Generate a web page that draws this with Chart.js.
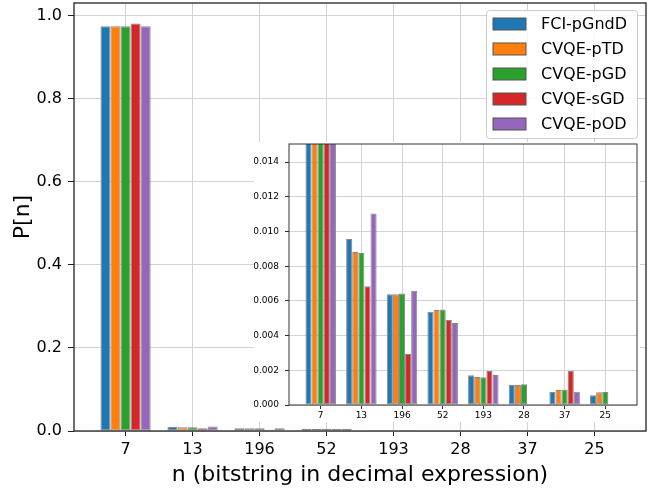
<!DOCTYPE html>
<html>
<head>
<meta charset="utf-8">
<script src="https://cdn.jsdelivr.net/npm/chart.js@4.4.1/dist/chart.umd.min.js"></script>
<style>
  body { margin: 0; background: #fff; }
  #wrap { position: relative; width: 662px; height: 489px; }
  #mainChart { position: absolute; left: 0; top: 0; }
  #insetChart { position: absolute; left: 254px; top: 142px; background: #fff; }
</style>
</head>
<body>
<div id="wrap">
  <canvas id="mainChart" width="662" height="489"></canvas>
  <canvas id="insetChart" width="386" height="280"></canvas>
</div>
<script>
// bitstrings n, in the order of the x axis
var categories = ['7', '13', '196', '52', '193', '28', '37', '25'];
var seriesNames = ['FCI-pGndD', 'CVQE-pTD', 'CVQE-pGD', 'CVQE-sGD', 'CVQE-pOD'];
var fciPGndD = [0.9748, 0.00956, 0.00638, 0.00538, 0.00171, 0.00115, 0.00075, 0.00056];
var cvqePTD  = [0.9752, 0.00881, 0.00638, 0.00547, 0.00162, 0.00115, 0.00087, 0.00073];
var cvqePGD  = [0.9750, 0.00876, 0.00643, 0.00551, 0.00160, 0.00119, 0.00090, 0.00075];
var cvqeSGD  = [0.9815, 0.00684, 0.00294, 0.00490, 0.00196, 0, 0.00196, 0];
var cvqePOD  = [0.9750, 0.01104, 0.00659, 0.00472, 0.00173, 0, 0.00077, 0];
var colors = ['#1f77b4', '#ff7f0e', '#2ca02c', '#d62728', '#9467bd'];

Chart.defaults.font.family = 'DejaVu Sans';
Chart.defaults.color = '#000';

var allSeries = [fciPGndD, cvqePTD, cvqePGD, cvqeSGD, cvqePOD];
var positions = categories.map(function(c, i) { return i; });

function makeDatasets() {
    var sets = [];
    for (var i = 0; i < allSeries.length; i++) {
        sets.push({
            label: seriesNames[i],
            data: allSeries[i],
            backgroundColor: colors[i],
            borderColor: '#888888',
            borderWidth: 1,
            borderSkipped: false,
            categoryPercentage: 0.75,
            barPercentage: 1.0
        });
    }
    return sets;
}

// fixed axis sizes, no extra padding for overhanging labels
function fixSize(w, h) {
    return function(scale) {
        if (w) scale.width = w;
        if (h) scale.height = h;
        scale.paddingTop = 0;
        scale.paddingBottom = 0;
        scale.paddingLeft = 0;
        scale.paddingRight = 0;
    };
}

// full box around the plot area, like the spines
var framePlugin = {
    id: 'frame',
    afterDraw: function(chart, args, opts) {
        var a = chart.chartArea, ctx = chart.ctx;
        ctx.save();
        ctx.strokeStyle = opts.color;
        ctx.lineWidth = opts.width;
        ctx.strokeRect(a.left, a.top, a.right - a.left, a.bottom - a.top);
        ctx.restore();
    }
};

// legend box in the top right corner of the main plot
var boxLegend = {
    id: 'boxLegend',
    afterDraw: function(chart) {
        var ctx = chart.ctx, a = chart.chartArea;
        var w = 151, h = 128;
        var x0 = a.right - 9 - w, y0 = a.top + 7;
        ctx.save();
        ctx.beginPath();
        ctx.roundRect(x0 + 0.5, y0 + 0.5, w, h, 3);
        ctx.fillStyle = 'rgba(255,255,255,0.85)';
        ctx.fill();
        ctx.strokeStyle = '#cccccc';
        ctx.lineWidth = 1;
        ctx.stroke();
        ctx.font = '16px "DejaVu Sans"';
        ctx.textBaseline = 'middle';
        ctx.textAlign = 'left';
        chart.data.datasets.forEach(function(ds, i) {
            var cy = y0 + 14 + i * 25;
            ctx.fillStyle = ds.backgroundColor;
            ctx.fillRect(x0 + 7, cy - 6, 33, 12);
            ctx.strokeStyle = '#555';
            ctx.strokeRect(x0 + 7, cy - 6, 33, 12);
            ctx.fillStyle = '#000';
            ctx.fillText(ds.label, x0 + 55, cy + 1);
        });
        ctx.restore();
    }
};

var mainCtx = document.getElementById('mainChart').getContext('2d');
var mainChart = new Chart(mainCtx, {
    type: 'bar',
    data: {
        labels: positions,
        datasets: makeDatasets()
    },
    plugins: [framePlugin, boxLegend],
    options: {
        responsive: false,
        animation: false,
        layout: { padding: { left: 0, top: 3, right: 16, bottom: 0 } },
        plugins: {
            legend: { display: false },
            tooltip: { enabled: false },
            frame: { color: '#222', width: 1.3 }
        },
        scales: {
            x: {
                type: 'linear',
                min: -0.77,
                max: 7.77,
                offset: false,
                afterFit: fixSize(0, 58),
                ticks: {
                    stepSize: 1,
                    includeBounds: false,
                    autoSkip: false,
                    maxRotation: 0,
                    padding: 4,
                    font: { size: 16 },
                    callback: function(v) { return categories[v]; }
                },
                grid: { offset: false, color: '#d3d3d3', lineWidth: 1, tickLength: 5, tickColor: '#222' },
                border: { display: false },
                title: {
                    display: true,
                    text: 'n (bitstring in decimal expression)',
                    font: { size: 22 },
                    padding: { top: 0, bottom: 1 }
                }
            },
            y: {
                min: 0,
                max: 1.031,
                afterFit: fixSize(74, 0),
                ticks: {
                    stepSize: 0.2,
                    includeBounds: false,
                    padding: 6,
                    font: { size: 16 },
                    callback: function(v) { return v.toFixed(1); }
                },
                grid: { color: '#d3d3d3', lineWidth: 1, tickLength: 6, tickColor: '#222' },
                border: { display: false },
                title: {
                    display: true,
                    text: 'P[n]',
                    font: { size: 22 },
                    padding: { top: 10, bottom: 0 }
                }
            }
        }
    }
});

var insetCtx = document.getElementById('insetChart').getContext('2d');
var insetChart = new Chart(insetCtx, {
    type: 'bar',
    data: {
        labels: positions,
        datasets: makeDatasets()
    },
    plugins: [framePlugin],
    options: {
        responsive: false,
        animation: false,
        layout: { padding: { left: 0, top: 2, right: 3, bottom: 0 } },
        plugins: {
            legend: { display: false },
            tooltip: { enabled: false },
            frame: { color: '#333', width: 1 }
        },
        scales: {
            x: {
                type: 'linear',
                min: -0.78,
                max: 7.78,
                offset: false,
                afterFit: fixSize(0, 17),
                ticks: {
                    stepSize: 1,
                    includeBounds: false,
                    autoSkip: false,
                    maxRotation: 0,
                    padding: 1,
                    font: { size: 9 },
                    callback: function(v) { return categories[v]; }
                },
                grid: { offset: false, color: '#d3d3d3', lineWidth: 1, tickLength: 4, tickColor: '#333' },
                border: { display: false }
            },
            y: {
                min: 0,
                max: 0.01504,
                afterFit: fixSize(35, 0),
                ticks: {
                    stepSize: 0.002,
                    includeBounds: false,
                    padding: 6,
                    font: { size: 9 },
                    callback: function(v) { return v.toFixed(3); }
                },
                grid: { color: '#d3d3d3', lineWidth: 1, tickLength: 4, tickColor: '#333' },
                border: { display: false }
            }
        }
    }
});
</script>
</body>
</html>
